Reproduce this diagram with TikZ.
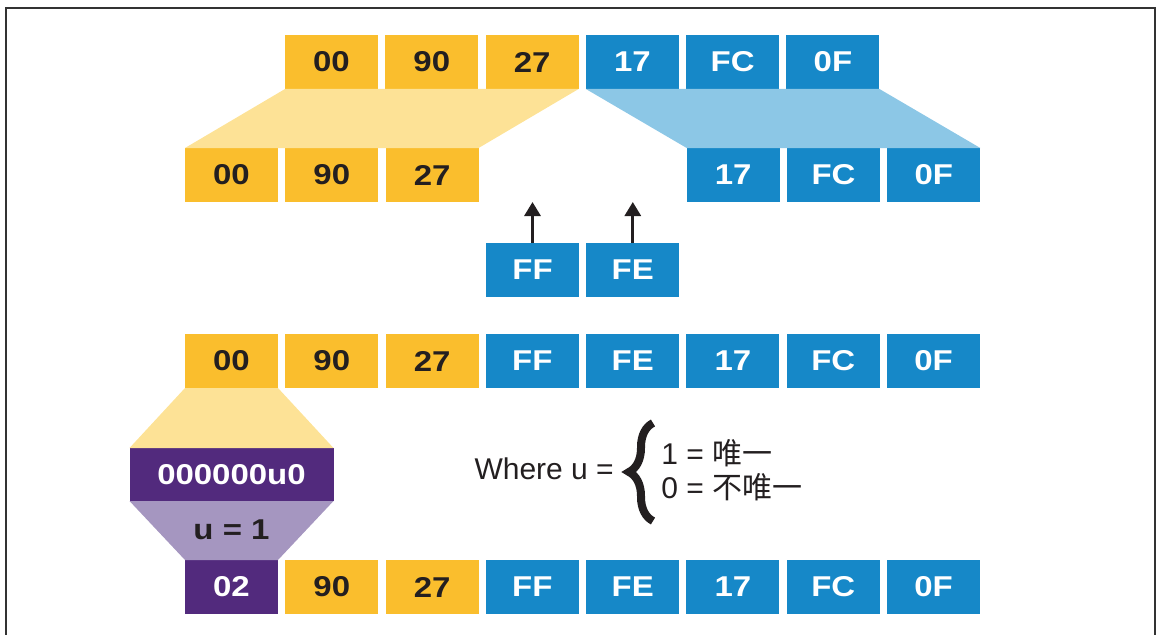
\documentclass[tikz,border=0pt]{standalone}
\usepackage{fontspec}
\setmainfont{Liberation Sans}
\newfontfamily\bytefont{Liberation Sans}[FakeStretch=1.15]
\newfontfamily\cjk{Noto Sans CJK SC}
\usepackage{tikz}
\usetikzlibrary{arrows.meta,positioning,decorations.pathreplacing}
\definecolor{byteyel}{RGB}{250,190,45}
\definecolor{byteblu}{RGB}{22,136,200}
\definecolor{bytepur}{RGB}{82,42,125}
\definecolor{fanyel}{RGB}{253,226,150}
\definecolor{fanblu}{RGB}{140,199,230}
\definecolor{fanpur}{RGB}{165,150,192}
\definecolor{ink}{RGB}{35,31,32}

\begin{document}
\begin{tikzpicture}[x=0.75pt, y=-0.75pt, node distance=5.47pt,
                    >={Triangle[width=12pt,length=10.5pt]}]
  \useasboundingbox (0,0) rectangle (1157,635);
  \tikzset{byte/.style={minimum width=69.75pt, minimum height=40.5pt,
                        inner sep=0pt, outer sep=0pt, fill=#1,
                        font=\bytefont\bfseries\fontsize{21.5}{24}\selectfont},
           ylw/.style={byte=byteyel, text=ink},
           blu/.style={byte=byteblu, text=white},
           prp/.style={byte=bytepur, text=white},
           plain/.style={inner sep=0pt, text=ink,
                         font=\fontsize{22.5}{26}\selectfont},
           brace/.style={decorate, decoration={brace, amplitude=18pt},
                         line width=6pt, ink}}
  % open frame, the bottom edge is cut off
  \draw[line width=1.5pt, black!80] (6,635) -- (6,8) -- (1155,8) -- (1155,635);

  % original record
  \node[ylw]               (t1) at (331.5,62) {00};
  \node[ylw, right=of t1]  (t2) {90};
  \node[ylw, right=of t2]  (t3) {27};
  \node[blu, right=of t3]  (t4) {17};
  \node[blu, right=of t4]  (t5) {FC};
  \node[blu, right=of t5]  (t6) {0F};

  % split apart
  \node[ylw]               (m0) at (231.5,175) {00};
  \node[ylw, right=of m0]  (m1) {90};
  \node[ylw, right=of m1]  (m2) {27};
  \node[blu]               (m5) at (733.2,175) {17};
  \node[blu, right=of m5]  (m6) {FC};
  \node[blu, right=of m6]  (m7) {0F};

  \fill[fanyel] (t1.south west) -- (t3.south east) -- (m2.north east)
                -- (m0.north west) -- cycle;
  \fill[fanblu] (t4.south west) -- (t6.south east) -- (m7.north east)
                -- (m5.north west) -- cycle;

  % inserted bytes
  \node[blu]               (ff) at (532.5,270) {FF};
  \node[blu, right=of ff]  (fe) {FE};
  \draw[->, line width=2.25pt, ink] (ff.north) -- (ff.north |- m2.south);
  \draw[->, line width=2.25pt, ink] (fe.north) -- (fe.north |- m2.south);

  % joined record
  \node[ylw]               (r0) at (231.5,361) {00};
  \node[ylw, right=of r0]  (r1) {90};
  \node[ylw, right=of r1]  (r2) {27};
  \node[blu, right=of r2]  (r3) {FF};
  \node[blu, right=of r3]  (r4) {FE};
  \node[blu, right=of r4]  (r5) {17};
  \node[blu, right=of r5]  (r6) {FC};
  \node[blu, right=of r6]  (r7) {0F};

  % flag byte
  \node[prp, minimum width=153pt, minimum height=39.75pt]
       (ubar) at (231.5,474.5) {000000u0};
  \node[prp]               (b0) at (231.5,587) {02};
  \node[ylw, right=of b0]  (b1) {90};
  \node[ylw, right=of b1]  (b2) {27};
  \node[blu, right=of b2]  (b3) {FF};
  \node[blu, right=of b3]  (b4) {FE};
  \node[blu, right=of b4]  (b5) {17};
  \node[blu, right=of b5]  (b6) {FC};
  \node[blu, right=of b6]  (b7) {0F};

  \fill[fanyel] (r0.south west) -- (r0.south east) -- (ubar.north east)
                -- (ubar.north west) -- cycle;
  \fill[fanpur] (ubar.south west) -- (ubar.south east) -- (b0.north east)
                -- (b0.north west) -- cycle;
  \node[font=\bytefont\bfseries\fontsize{21.5}{24}\selectfont, text=ink]
       (uval) at (231.5,530) {u = 1};

  % legend
  \node[plain, anchor=east] (where) at (614,469) {Where u =};
  \draw[brace] (653,521) -- (653,423);
  \node[plain, anchor=west] (one)  at (661,453) {1 = {\cjk 唯一}};
  \node[plain, anchor=west] (zero) at (661,487) {0 = {\cjk 不唯一}};
\end{tikzpicture}
\end{document}
